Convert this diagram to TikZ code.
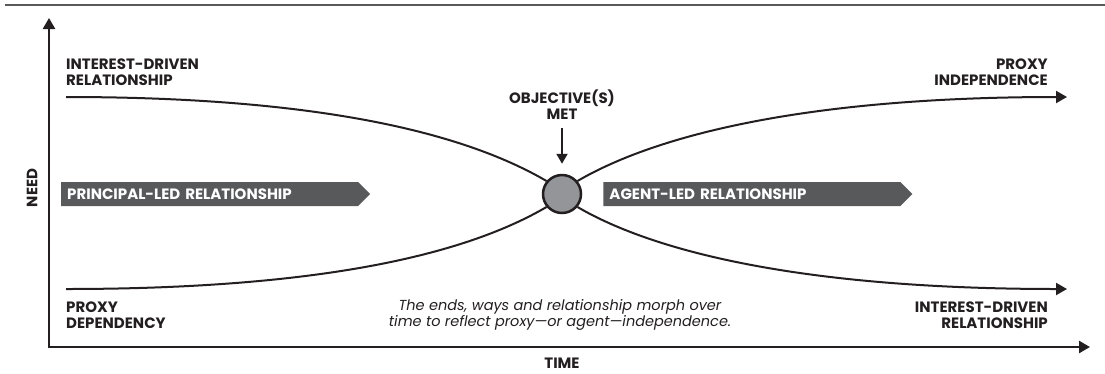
\documentclass[tikz,border=0pt]{standalone}
\usepackage{fontspec}
\setmainfont{Poppins}
\usetikzlibrary{shapes.symbols, arrows.meta, positioning}
\definecolor{ink}{HTML}{231F20}
\definecolor{slate}{HTML}{58595B}
\definecolor{disc}{HTML}{939598}

\begin{document}
\begin{tikzpicture}[x=1pt, y=-1pt,
    lbl/.style={font=\fontsize{15}{16}\selectfont\bfseries, text=ink, inner sep=0pt},
    band/.style={signal, signal to=east, signal pointer angle=90, fill=slate, text=white, font=\fontsize{15}{16}\selectfont\bfseries, minimum height=24pt, inner xsep=6pt, inner ysep=0pt, text width=285pt, align=left},
    curve/.style={ink, line width=2pt},
    tip/.style={-{Triangle[length=11pt, width=12pt]}}
  ]
  \useasboundingbox (0,0) rectangle (1105,373);

  % Top rule
  \draw[slate, line width=1.5pt] (5,5) -- (1105,5);

  % Axes
  \coordinate (ytop) at (49,18);
  \coordinate (origin) at (49,347);
  \coordinate (xend) at (1090,347);
  \draw[ink, line width=2.5pt, {Triangle[length=11pt, width=12pt]}-{Triangle[length=11pt, width=12pt]}] (ytop) -- (origin) -- (xend);
  \node[lbl, rotate=90] (need) at (32,188) {NEED};
  \node[lbl] (time) at (562,363.5) {TIME};

  % Objective reached
  \node[circle, draw=ink, line width=2.5pt, fill=disc, minimum size=38pt, inner sep=0pt] (goal) at (562,194) {};
  \node[lbl, align=center] (met) at (562,105) {OBJECTIVE(S)\\MET};
  \draw[ink, line width=2pt, -{Triangle[length=10pt, width=11pt]}, shorten <=8pt, shorten >=10pt] (met.south) -- (goal.north);

  % Curve ends
  \coordinate (tl) at (66,97);
  \coordinate (bl) at (66,289);
  \coordinate (tr) at (1067,97);
  \coordinate (br) at (1067,289);

  % Curves through the circle
  \draw[curve] (tl) .. controls +(264,0) and +(-77,-45) .. (goal.140);
  \draw[curve] (bl) .. controls +(264,0) and +(-77,45) .. (goal.220);
  \draw[curve, tip] (goal.40) .. controls +(77,-45) and +(-264,0) .. (tr);
  \draw[curve, tip] (goal.320) .. controls +(77,45) and +(-264,0) .. (br);

  % End labels
  \node[lbl, align=left, above right=11pt and 0pt of tl] (tllbl) {INTEREST-DRIVEN\\RELATIONSHIP};
  \node[lbl, align=left, below right=13pt and 0pt of bl] (bllbl) {PROXY\\DEPENDENCY};
  \node[lbl, align=right, above left=11pt and 19pt of tr] (trlbl) {PROXY\\INDEPENDENCE};
  \node[lbl, align=right, below left=13pt and 19pt of br] (brlbl) {INTEREST-DRIVEN\\RELATIONSHIP};

  % Phase banners
  \node[band, anchor=west] (principal) at (61,194) {PRINCIPAL-LED RELATIONSHIP};
  \node[band, right=21pt of goal] (agent) {AGENT-LED RELATIONSHIP};

  % Note
  \node[font=\fontsize{14.5}{16}\selectfont\itshape, text=ink, align=center] (note) at (560,315) {The ends, ways and relationship morph over\\time to reflect proxy—or agent—independence.};

\end{tikzpicture}
\end{document}
